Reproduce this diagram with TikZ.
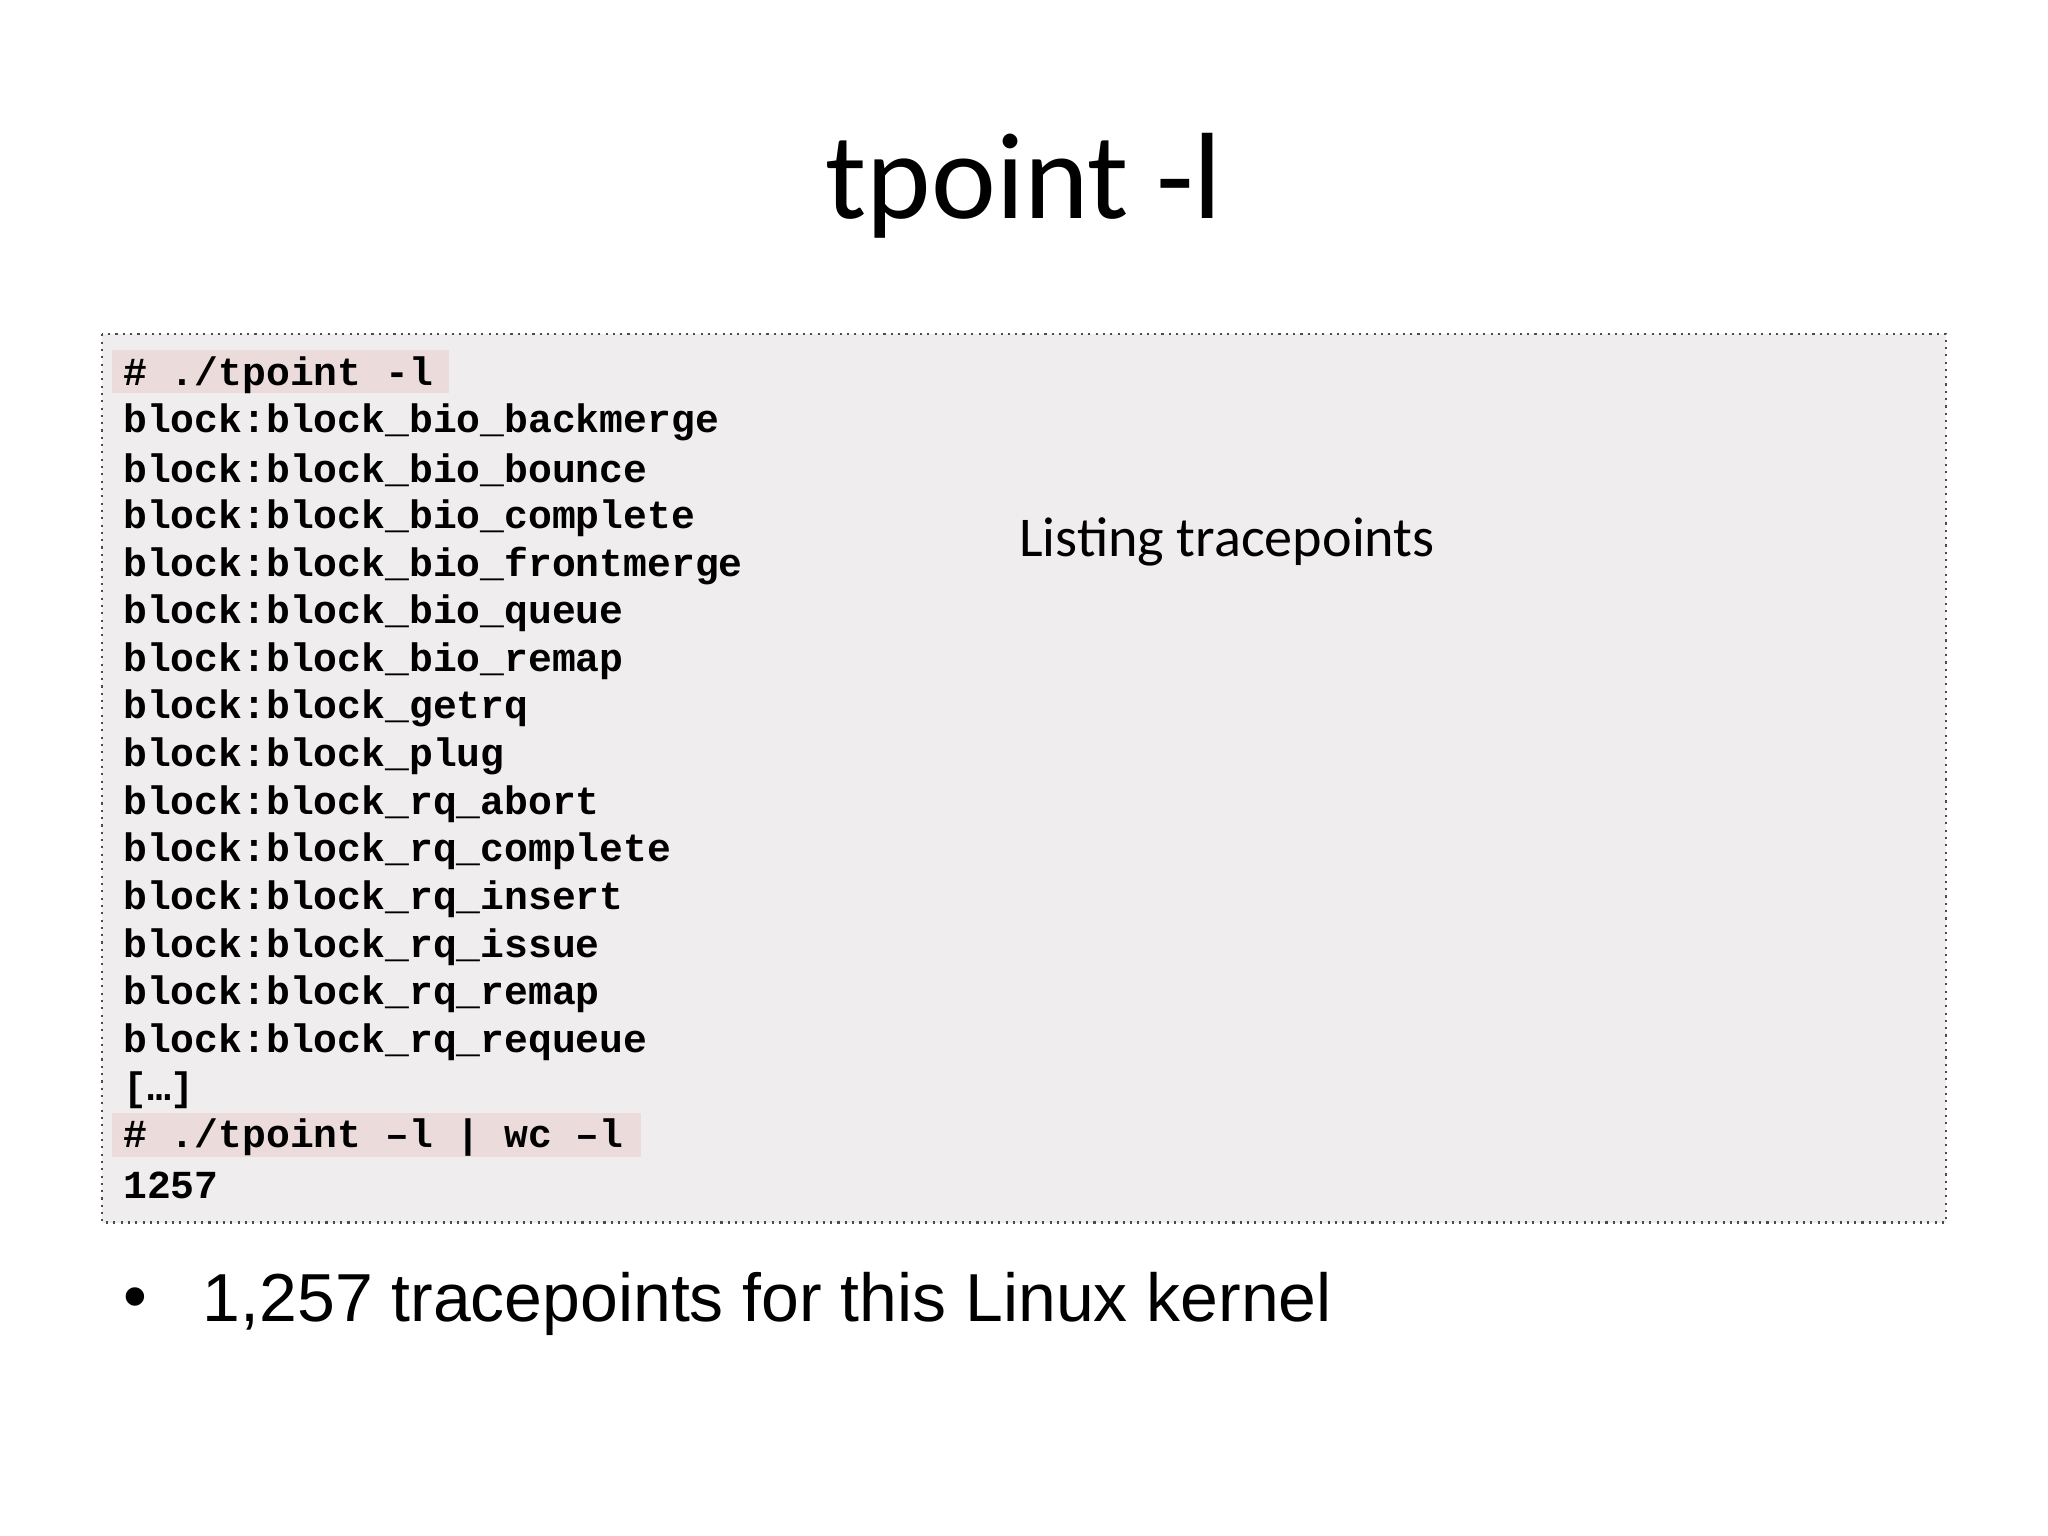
\documentclass[tikz,border=0pt]{standalone}
\usepackage{fontspec}
\setmainfont{Carlito}
\newfontfamily\monob{Liberation Mono}
\newfontfamily\arialf{Liberation Sans}
\begin{document}
\begin{tikzpicture}[x=0.5pt,y=-0.5pt,
  code/.style={anchor=west,inner sep=0pt,font=\monob\bfseries\fontsize{15.2pt}{16pt}\selectfont},
  hl/.style={fill=hlpink,draw=none}]
\definecolor{boxbg}{HTML}{EFEDEE}
\definecolor{hlpink}{HTML}{EBDCDB}
\useasboundingbox (0,0) rectangle (1568,1176);
\fill[white] (0,0) rectangle (1568,1176);
\fill[boxbg] (78,256) rectangle (1490,936);
\draw[gray!60!black, dotted, line width=0.8pt] (78,256) rectangle (1490,936);
\fill[hlpink] (86,268) rectangle (344,301);
\fill[hlpink] (86,852) rectangle (491,886);
\node[font=\fontsize{47pt}{50pt}\selectfont] (title) at (784,142) {tpoint -l};
\node[anchor=west,inner sep=0pt,font=\fontsize{21.5pt}{24pt}\selectfont] (lbl) at (780,415) {Listing tracepoints};
\foreach \t [count=\i] in {{\# ./tpoint -l},block:block\_bio\_backmerge,block:block\_bio\_bounce,block:block\_bio\_complete,block:block\_bio\_frontmerge,block:block\_bio\_queue,block:block\_bio\_remap,block:block\_getrq,block:block\_plug,block:block\_rq\_abort,block:block\_rq\_complete,block:block\_rq\_insert,block:block\_rq\_issue,block:block\_rq\_remap,block:block\_rq\_requeue,{[…]},{\# ./tpoint –l | wc –l},1257}
  \node[code] (l\i) at (94,{287+36.5*(\i-1)}) {\t};
\node[anchor=west,inner sep=0pt,font=\arialf\fontsize{26pt}{30pt}\selectfont] (bul) at (94,998) {•};
\node[anchor=west,inner sep=0pt,font=\arialf\fontsize{26pt}{30pt}\selectfont] (btxt) at (155,998) {1,257 tracepoints for this Linux kernel};
\end{tikzpicture}
\end{document}
